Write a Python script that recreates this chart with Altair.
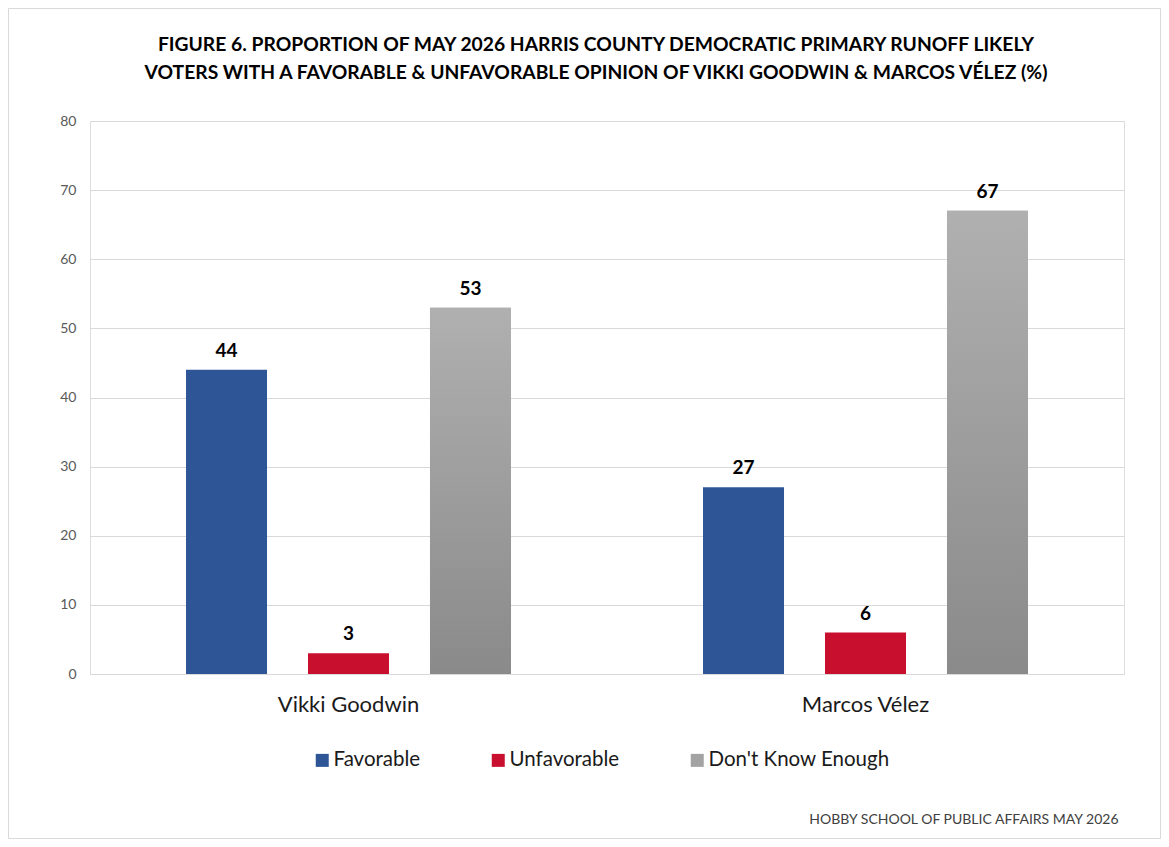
import altair as alt
import pandas as pd

candidates = ["Vikki Goodwin", "Marcos Vélez"]
opinions = ["Favorable", "Unfavorable", "Don't Know Enough"]
favorable = [44, 27]
unfavorable = [3, 6]
dont_know = [53, 67]
y_ticks = [0, 10, 20, 30, 40, 50, 60, 70, 80]

title_line1 = "FIGURE 6. PROPORTION OF MAY 2026 HARRIS COUNTY DEMOCRATIC PRIMARY RUNOFF LIKELY"
title_line2 = "VOTERS WITH A FAVORABLE & UNFAVORABLE OPINION OF VIKKI GOODWIN & MARCOS VÉLEZ (%)"
footer = "HOBBY SCHOOL OF PUBLIC AFFAIRS MAY 2026"

rows = []
for i, c in enumerate(candidates):
    for o, vals in zip(opinions, [favorable, unfavorable, dont_know]):
        rows.append({"candidate": c, "opinion": o, "value": vals[i]})
df = pd.DataFrame(rows)

BLUE = "#2E5596"
RED = "#C8102E"
GRAY = "#A3A3A3"
FONT = "Lato"

W, H = 1034, 553

base = alt.Chart(df).encode(
    x=alt.X(
        "candidate:N",
        sort=candidates,
        scale=alt.Scale(domain=candidates, paddingInner=0, paddingOuter=0),
        axis=alt.Axis(
            labelAngle=0,
            labelFontSize=22,
            labelColor="#1a1a1a",
            labelPadding=20,
            labelFont=FONT,
            domain=False,
            ticks=False,
            grid=False,
            title=footer,
            titleFont=FONT,
            titleFontSize=14,
            titleFontWeight="normal",
            titleColor="#404040",
            titleX=1028,
            titleY=145,
            titleAlign="right",
            titleBaseline="middle",
            titleAnchor="end",
        ),
    ),
    xOffset=alt.XOffset(
        "opinion:N",
        sort=opinions,
        scale=alt.Scale(domain=opinions, paddingInner=0.336, paddingOuter=0.787),
    ),
    y=alt.Y(
        "value:Q",
        scale=alt.Scale(domain=[0, 80], nice=False),
        axis=alt.Axis(
            values=y_ticks,
            title=None,
            grid=True,
            gridColor="#d9d9d9",
            gridWidth=1,
            domain=False,
            ticks=False,
            labelPadding=14,
            labelFontSize=14,
            labelColor="#595959",
            labelFont=FONT,
        ),
    ),
)

bars = base.mark_bar().encode(
    color=alt.Color(
        "opinion:N",
        sort=opinions,
        scale=alt.Scale(domain=opinions, range=[BLUE, RED, GRAY]),
        legend=alt.Legend(
            title=None,
            orient="none",
            legendX=222,
            legendY=629,
            direction="horizontal",
            symbolType="square",
            symbolSize=169,
            symbolStrokeWidth=0,
            labelFontSize=20.5,
            labelFont=FONT,
            labelColor="#1a1a1a",
            labelOffset=1,
            labelLimit=0,
            columnPadding=67,
        ),
    )
)

grad = (
    base.transform_filter(alt.datum.opinion == "Don't Know Enough")
    .mark_bar(
        color=alt.Gradient(
            gradient="linear",
            stops=[
                alt.GradientStop(color="#B0B0B0", offset=0),
                alt.GradientStop(color="#8A8A8A", offset=1),
            ],
            x1=0, x2=0, y1=0, y2=1,
        )
    )
)

labels = base.mark_text(
    dy=-9, baseline="bottom", fontWeight="bold", fontSize=19, font=FONT, color="#000000"
).encode(text="value:Q")

frame = alt.Chart(pd.DataFrame({"a": [0]})).mark_rect(
    fillOpacity=0, stroke="#d9d9d9", strokeWidth=1
).encode(
    x=alt.value(-81.5), x2=alt.value(W + 36.5), y=alt.value(-112.5), y2=alt.value(H + 164.5)
)


def title_text(line, ypos):
    return alt.Chart(pd.DataFrame({"line": [line]})).mark_text(
        font=FONT, fontSize=19.3, fontWeight="bold", color="#000000",
        align="center", baseline="middle"
    ).encode(text="line:N", x=alt.value(506), y=alt.value(ypos))


title1 = title_text(title_line1, -76)
title2 = title_text(title_line2, -48)

chart = (
    alt.layer(frame, bars, grad, labels, title1, title2)
    .properties(
        width=W,
        height=H,
        padding={"left": 82, "top": 113, "right": 37, "bottom": 165},
        autosize=alt.AutoSizeParams(type="none"),
    )
    .configure_view(stroke=None)
    .configure(background="white")
)

chart.save("out.html", embed_options={"renderer": "svg", "actions": False})
